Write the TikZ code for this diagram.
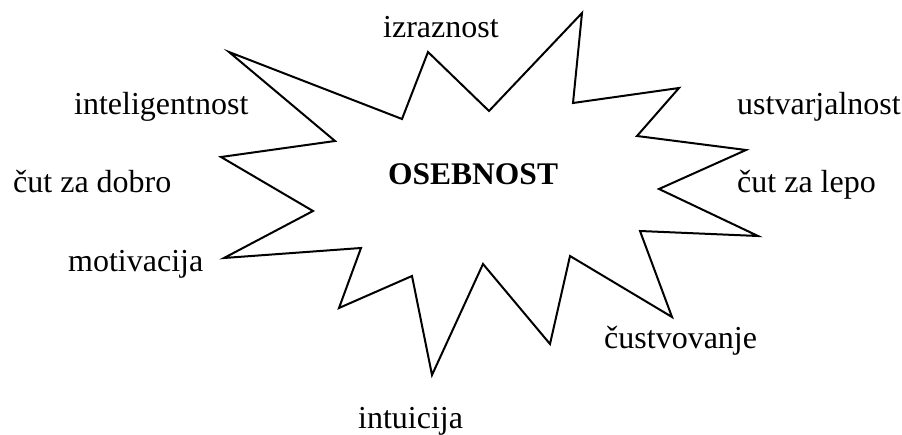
\documentclass[tikz,border=0pt]{standalone}
\usepackage{fontspec}
\setmainfont{Liberation Serif}
\begin{document}
\begin{tikzpicture}[x=1pt,y=-1pt,
  word/.style={anchor=base west,inner sep=0pt,font=\fontsize{32}{37}\selectfont},
  title/.style={anchor=base west,inner sep=0pt,font=\fontsize{31.5}{36}\selectfont\bfseries},
  burst/.style={draw=black,line width=2pt,line join=miter}]
\useasboundingbox (0,0) rectangle (902,435);
% starburst outline
\draw[burst] (229,52) -- (402,119) -- (428,52) -- (489,111) -- (582,13)
  -- (573,103) -- (679,88) -- (637,136) -- (746,150) -- (659,189)
  -- (758,236) -- (640,231) -- (672,317) -- (570,256) -- (550,344)
  -- (483,264) -- (432,375) -- (412,276) -- (339,308) -- (361,248)
  -- (224,258) -- (313,211) -- (221,157) -- (335,141) -- cycle;
% centre title
\node[title] (osebnost) at (388,185) {OSEBNOST};
% surrounding words
\node[word] (izraznost) at (383,38) {izraznost};
\node[word] (inteligentnost) at (74,115) {inteligentnost};
\node[word] (dobro) at (13,193) {čut za dobro};
\node[word] (motivacija) at (68,272) {motivacija};
\node[word] (ustvarjalnost) at (737,115) {ustvarjalnost};
\node[word] (lepo) at (737,193) {čut za lepo};
\node[word] (custvovanje) at (604,349) {čustvovanje};
\node[word] (intuicija) at (358,428) {intuicija};
\end{tikzpicture}
\end{document}
